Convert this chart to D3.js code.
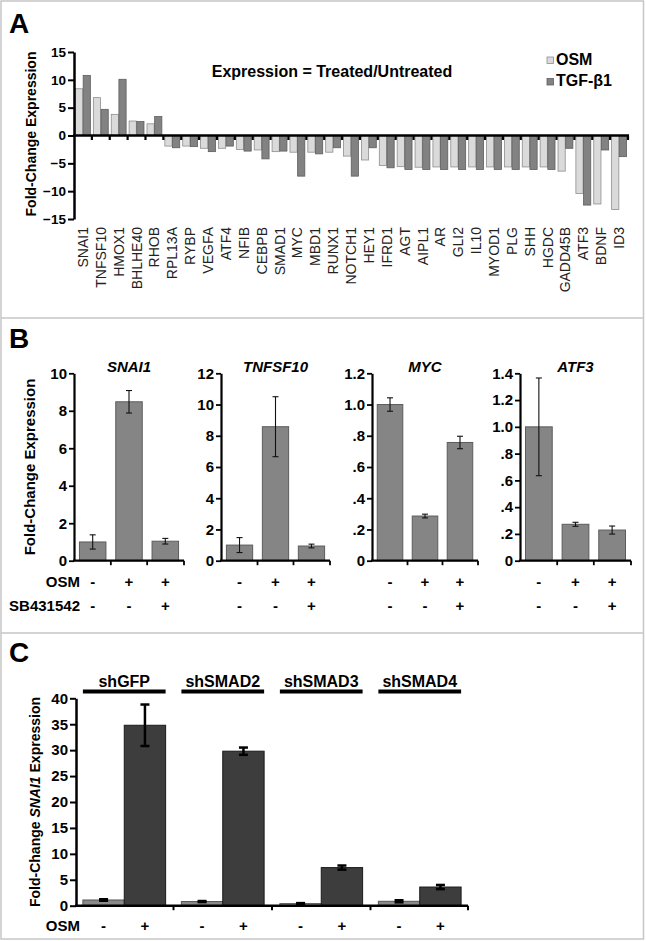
<!DOCTYPE html>
<html><head><meta charset="utf-8">
<script src="https://cdn.jsdelivr.net/npm/d3@7"></script>
<style>
body{margin:0;background:#fff;}
text{font-family:"Liberation Sans",Arial,sans-serif;}
</style></head>
<body>
<script>
// ---------- DATA ----------
const genesA = ["SNAI1","TNFSF10","HMOX1","BHLHE40","RHOB","RPL13A","RYBP","VEGFA","ATF4","NFIB","CEBPB","SMAD1","MYC","MBD1","RUNX1","NOTCH1","HEY1","IFRD1","AGT","AIPL1","AR","GLI2","IL10","MYOD1","PLG","SHH","HGDC","GADD45B","ATF3","BDNF","ID3"];
const osmA = [8.4,6.8,3.8,2.6,2.1,-1.9,-1.9,-2.3,-2.3,-2.5,-2.6,-2.9,-3.0,-3.0,-3.0,-3.7,-4.4,-5.4,-5.6,-5.7,-5.65,-5.65,-5.65,-5.65,-5.65,-5.65,-5.65,-6.4,-10.4,-12.3,-13.3];
const tgfA = [10.8,4.7,10.1,2.5,3.4,-2.2,-2.0,-2.9,-1.9,-2.8,-4.2,-2.8,-7.3,-3.3,-2.2,-7.3,-2.2,-5.8,-6.1,-6.1,-6.1,-6.1,-6.1,-6.1,-6.1,-6.1,-6.1,-2.3,-12.5,-2.6,-3.8];
const seriesA = ["OSM","TGF-\u03B21"];
const ticksA = [-15,-10,-5,0,5,10,15];

const genesB = ["SNAI1","TNFSF10","MYC","ATF3"];
const meansB = [[1.0,8.48,1.04],[1.0,8.58,0.94],[1.0,0.286,0.757],[1.0,0.272,0.229]];
const errB   = [[0.38,0.60,0.15],[0.48,1.92,0.12],[0.043,0.012,0.04],[0.365,0.015,0.03]];
const maxB   = [10,12,1.2,1.4];
const ticksB = [[0,2,4,6,8,10],[0,2,4,6,8,10,12],[0,0.2,0.4,0.6,0.8,1.0,1.2],[0,0.2,0.4,0.6,0.8,1.0,1.2,1.4]];
const tickLabelsB = [["0","2","4","6","8","10"],["0","2","4","6","8","10","12"],["0",".2",".4",".6",".8","1.0","1.2"],["0",".2",".4",".6",".8","1.0","1.2","1.4"]];
const osmSignsB = ["-","+","+"];
const sbSignsB  = ["-","-","+"];

const groupsC = ["shGFP","shSMAD2","shSMAD3","shSMAD4"];
const minusC = [1.1,0.8,0.4,0.85];
const minusErrC = [0.15,0.1,0.1,0.2];
const plusC = [34.8,29.8,7.35,3.6];
const plusErrC = [4.0,0.7,0.4,0.4];
const ticksC = [0,5,10,15,20,25,30,35,40];
const osmSignsC = ["-","+"];

// ---------- SETUP ----------
const W=646,H=941;
const svg=d3.select("body").append("svg").attr("width",W).attr("height",H);
const FONT='"Liberation Sans",Arial,sans-serif';

// frame
svg.append("rect").attr("x",1).attr("y",1).attr("width",642.5).attr("height",938).attr("fill","none").attr("stroke","#c6c6c6").attr("stroke-width",1.5);
[318,633].forEach(y=>svg.append("line").attr("x1",1).attr("x2",644).attr("y1",y).attr("y2",y).attr("stroke","#c6c6c6").attr("stroke-width",1.5));

function panelLabel(t,x,y){svg.append("text").attr("x",x).attr("y",y).attr("font-size",28).attr("font-weight","bold").text(t);}
function styleAxis(g,dw,tw,fs){
  g.select(".domain").attr("stroke","#000").attr("stroke-width",dw);
  g.selectAll(".tick line").attr("stroke","#000").attr("stroke-width",tw);
  g.selectAll(".tick text").attr("font-family",FONT).attr("font-weight","bold").attr("font-size",fs).attr("fill","#000");
}

// ---------- PANEL A ----------
panelLabel("A",9,33);
const yA=d3.scaleLinear().domain([-15,15]).range([219,52]);
const xA=d3.scaleBand().domain(genesA).range([74,628]);
const subA=d3.scaleBand().domain(seriesA).range([1.5,xA.bandwidth()-1.5]).paddingInner(0.06);
const colA={"OSM":["#dadada","#8e8e8e"],"TGF-\u03B21":["#828282","#5e5e5e"]};
const recA=[];
genesA.forEach((g,i)=>{recA.push({g,s:seriesA[0],v:osmA[i]});recA.push({g,s:seriesA[1],v:tgfA[i]});});
svg.append("g").selectAll("rect").data(recA).join("rect")
  .attr("x",d=>xA(d.g)+subA(d.s)).attr("width",subA.bandwidth())
  .attr("y",d=>Math.min(yA(d.v),yA(0))).attr("height",d=>Math.abs(yA(d.v)-yA(0)))
  .attr("fill",d=>colA[d.s][0]).attr("stroke",d=>colA[d.s][1]).attr("stroke-width",0.8);
// y axis
const gyA=svg.append("g").attr("transform","translate(74,0)")
  .call(d3.axisLeft(yA).tickValues(ticksA).tickSize(6).tickSizeOuter(0).tickPadding(2));
styleAxis(gyA,2.5,2,13.5);
// zero line with ticks
svg.append("line").attr("x1",73).attr("x2",629).attr("y1",yA(0)).attr("y2",yA(0)).attr("stroke","#000").attr("stroke-width",2.5);
const bndA=genesA.slice(1).map(g=>xA(g)).concat([xA.range()[1]]);
svg.append("g").selectAll("line").data(bndA).join("line")
  .attr("x1",d=>d).attr("x2",d=>d).attr("y1",yA(0)).attr("y2",yA(0)+4.5).attr("stroke","#000").attr("stroke-width",2.2);
// x labels
const gxA=svg.append("g").attr("transform","translate(0,223)").call(d3.axisBottom(xA).tickSize(0));
gxA.select(".domain").remove();
gxA.selectAll(".tick text").attr("transform","rotate(-90)").attr("text-anchor","end")
  .attr("x",-4).attr("y",0).attr("dy","0.36em").attr("font-family",FONT).attr("font-size",14).attr("fill","#222");
// y label
svg.append("text").attr("transform","translate(36,134) rotate(-90)").attr("text-anchor","middle")
  .attr("font-size",14).attr("font-weight","bold").text("Fold-Change Expression");
// title
svg.append("text").attr("x",332).attr("y",77).attr("text-anchor","middle").attr("font-size",16).attr("font-weight","bold").text("Expression = Treated/Untreated");
// legend
seriesA.forEach((s,i)=>{
  const y=57+i*21.5;
  svg.append("rect").attr("x",547).attr("y",y).attr("width",6.5).attr("height",6.5).attr("fill",colA[s][0]).attr("stroke",colA[s][1]).attr("stroke-width",0.8);
  svg.append("text").attr("x",556).attr("y",y+7.5).attr("font-size",16).attr("font-weight","bold").text(s);
});

// ---------- PANEL B ----------
panelLabel("B",9,348);
const x0B=[74,221,372,520], x1B=[184,330,478,631];
const y0B=560.7, y1B=373.3;
genesB.forEach((gene,i)=>{
  const y=d3.scaleLinear().domain([0,maxB[i]]).range([y0B,y1B]);
  const x=d3.scaleBand().domain([0,1,2]).range([x0B[i],x1B[i]]).paddingInner(0.27).paddingOuter(0.15);
  const g=svg.append("g");
  g.selectAll("rect").data(meansB[i]).join("rect")
    .attr("x",(d,j)=>x(j)).attr("width",x.bandwidth()).attr("y",d=>y(d)).attr("height",d=>y0B-y(d))
    .attr("fill","#858585").attr("stroke","#5c5c5c").attr("stroke-width",1);
  // error bars
  meansB[i].forEach((m,j)=>{
    const cx=x(j)+x.bandwidth()/2, e=errB[i][j];
    g.append("line").attr("x1",cx).attr("x2",cx).attr("y1",y(m-e)).attr("y2",y(m+e)).attr("stroke","#111").attr("stroke-width",1.1);
    [m-e,m+e].forEach(v=>g.append("line").attr("x1",cx-3).attr("x2",cx+3).attr("y1",y(v)).attr("y2",y(v)).attr("stroke","#111").attr("stroke-width",1.1));
  });
  const ga=svg.append("g").attr("transform",`translate(${x0B[i]},0)`)
    .call(d3.axisLeft(y).tickValues(ticksB[i]).tickFormat((d,k)=>tickLabelsB[i][k]).tickSize(5).tickSizeOuter(0).tickPadding(2));
  styleAxis(ga,2.2,1.8,15);
  svg.append("line").attr("x1",x0B[i]-1).attr("x2",x1B[i]).attr("y1",y0B).attr("y2",y0B).attr("stroke","#000").attr("stroke-width",2.2);
  const step=x.step();
  const bnds=[1,2].map(j=>x(j)-(step-x.bandwidth())/2).concat([x1B[i]]);
  svg.append("g").selectAll("line").data(bnds).join("line").attr("x1",d=>d).attr("x2",d=>d).attr("y1",y0B).attr("y2",y0B+4.5).attr("stroke","#000").attr("stroke-width",1.8);
  svg.append("text").attr("x",(x0B[i]+x1B[i])/2).attr("y",372).attr("text-anchor","middle").attr("font-size",15).attr("font-weight","bold").attr("font-style","italic").text(gene);
  [osmSignsB,sbSignsB].forEach((arr,r)=>{
    svg.append("g").selectAll("text").data(arr).join("text").attr("x",(d,j)=>x(j)+x.bandwidth()/2).attr("y",587+r*24)
      .attr("text-anchor","middle").attr("font-size",15).attr("font-weight","bold").text(d=>d);
  });
});
svg.append("text").attr("x",80).attr("y",587).attr("text-anchor","end").attr("font-size",15).attr("font-weight","bold").text("OSM");
svg.append("text").attr("x",80).attr("y",611).attr("text-anchor","end").attr("font-size",15).attr("font-weight","bold").text("SB431542");
svg.append("text").attr("transform",`translate(35,${(y0B+y1B)/2}) rotate(-90)`).attr("text-anchor","middle")
  .attr("font-size",15).attr("font-weight","bold").text("Fold-Change Expression");

// ---------- PANEL C ----------
panelLabel("C",9,662);
const yC=d3.scaleLinear().domain([0,40]).range([905.7,698.3]);
const xC=d3.scaleBand().domain(groupsC).range([76,468]).paddingInner(0.16).paddingOuter(0.07);
const half=xC.bandwidth()/2;
const gC=svg.append("g");
groupsC.forEach((grp,i)=>{
  const bx=xC(grp);
  const bars=[{v:minusC[i],e:minusErrC[i],x:bx,f:"#8a8a8a",s:"#555"},{v:plusC[i],e:plusErrC[i],x:bx+half,f:"#3d3d3d",s:"#1a1a1a"}];
  bars.forEach(b=>{
    gC.append("rect").attr("x",b.x).attr("width",half).attr("y",yC(b.v)).attr("height",yC(0)-yC(b.v)).attr("fill",b.f).attr("stroke",b.s).attr("stroke-width",1);
    const cx=b.x+half/2;
    gC.append("line").attr("x1",cx).attr("x2",cx).attr("y1",yC(b.v-b.e)).attr("y2",yC(b.v+b.e)).attr("stroke","#000").attr("stroke-width",2.5);
    [b.v-b.e,b.v+b.e].forEach(v=>gC.append("line").attr("x1",cx-4.5).attr("x2",cx+4.5).attr("y1",yC(v)).attr("y2",yC(v)).attr("stroke","#000").attr("stroke-width",2.5));
  });
  gC.append("text").attr("x",bx+half).attr("y",687).attr("text-anchor","middle").attr("font-size",16).attr("font-weight","bold").text(grp);
  gC.append("line").attr("x1",bx).attr("x2",bx+2*half).attr("y1",691.5).attr("y2",691.5).attr("stroke","#000").attr("stroke-width",4);
  osmSignsC.forEach((s,j)=>gC.append("text").attr("x",bx+half*j+half/2).attr("y",931).attr("text-anchor","middle").attr("font-size",15).attr("font-weight","bold").text(s));
});
const gyC=svg.append("g").attr("transform","translate(76,0)")
  .call(d3.axisLeft(yC).tickValues(ticksC).tickSize(6).tickSizeOuter(0).tickPadding(2));
styleAxis(gyC,2.5,2,15);
svg.append("line").attr("x1",75).attr("x2",468).attr("y1",yC(0)).attr("y2",yC(0)).attr("stroke","#000").attr("stroke-width",2.5);
const bndC=groupsC.slice(1).map(g=>xC(g)-(xC.step()-xC.bandwidth())/2).concat([468]);
svg.append("g").selectAll("line").data(bndC).join("line").attr("x1",d=>d).attr("x2",d=>d).attr("y1",yC(0)).attr("y2",yC(0)+4.5).attr("stroke","#000").attr("stroke-width",2);
svg.append("text").attr("x",80).attr("y",931).attr("text-anchor","end").attr("font-size",15).attr("font-weight","bold").text("OSM");
const yl=svg.append("text").attr("transform",`translate(40,${(yC(0)+yC(40))/2}) rotate(-90)`).attr("text-anchor","middle")
  .attr("font-size",14).attr("font-weight","bold");
yl.append("tspan").text("Fold-Change ");
yl.append("tspan").attr("font-style","italic").text("SNAI1");
yl.append("tspan").text(" Expression");
</script>
</body></html>
